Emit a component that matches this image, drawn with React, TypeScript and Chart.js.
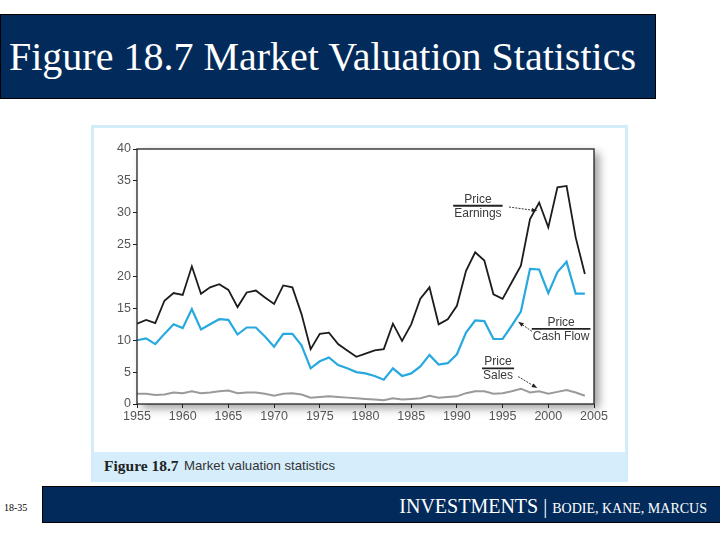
import { useEffect, useRef } from 'react'
import { Chart, registerables } from 'chart.js'

Chart.register(...registerables)

// years 1955..2004
const years = [
  1955, 1956, 1957, 1958, 1959, 1960, 1961, 1962, 1963, 1964,
  1965, 1966, 1967, 1968, 1969, 1970, 1971, 1972, 1973, 1974,
  1975, 1976, 1977, 1978, 1979, 1980, 1981, 1982, 1983, 1984,
  1985, 1986, 1987, 1988, 1989, 1990, 1991, 1992, 1993, 1994,
  1995, 1996, 1997, 1998, 1999, 2000, 2001, 2002, 2003, 2004,
]

const priceEarnings = [
  12.6, 13.2, 12.7, 16.2, 17.4, 17.1, 21.6, 17.3, 18.3, 18.8,
  17.9, 15.2, 17.5, 17.8, 16.7, 15.7, 18.6, 18.3, 14.1, 8.6,
  11.0, 11.2, 9.4, 8.4, 7.4, 7.9, 8.4, 8.6, 12.6, 9.9,
  12.5, 16.5, 18.3, 12.5, 13.3, 15.4, 20.9, 23.8, 22.5, 17.2,
  16.5, 19.1, 21.7, 29.0, 31.6, 27.7, 34.0, 34.2, 26.1, 20.4,
]

const priceCashFlow = [
  10.0, 10.3, 9.4, 11.0, 12.5, 11.9, 14.9, 11.7, 12.5, 13.3,
  13.2, 10.9, 12.0, 12.0, 10.6, 9.0, 11.0, 11.0, 9.2, 5.6,
  6.7, 7.3, 6.1, 5.6, 5.0, 4.8, 4.4, 3.8, 5.6, 4.4,
  4.8, 5.9, 7.7, 6.2, 6.4, 7.8, 11.2, 13.1, 13.0, 10.2,
  10.2, 12.3, 14.5, 21.2, 21.1, 17.4, 20.7, 22.3, 17.3, 17.3,
]

const priceSales = [
  1.6, 1.6, 1.4, 1.5, 1.8, 1.7, 2.0, 1.7, 1.8, 2.0,
  2.1, 1.7, 1.8, 1.8, 1.6, 1.3, 1.6, 1.7, 1.5, 1.0,
  1.1, 1.2, 1.1, 1.0, 0.9, 0.8, 0.7, 0.6, 0.9, 0.7,
  0.8, 0.9, 1.3, 1.0, 1.1, 1.2, 1.7, 2.0, 2.0, 1.6,
  1.7, 2.0, 2.4, 1.8, 2.0, 1.6, 1.9, 2.2, 1.8, 1.3,
]

const yTicks = [0, 5, 10, 15, 20, 25, 30, 35, 40]
const xTicks = [1955, 1960, 1965, 1970, 1975, 1980, 1985, 1990, 1995, 2000, 2005]

// fraction labels placed in data units, with an arrow pointing at the line
const fractionLabels = [
  { top: 'Price', bottom: 'Earnings', x: 1992.3, y: 31.1, from: [1995.7, 30.9], to: [1998.8, 30.3] },
  { top: 'Price', bottom: 'Cash Flow', x: 2001.4, y: 11.8, from: [1998.2, 11.4], to: [1996.7, 12.9] },
  { top: 'Price', bottom: 'Sales', x: 1994.5, y: 5.6, from: [1996.7, 4.3], to: [1998.8, 2.5] },
]

const NAVY = '#022b5b'

const framePlugin = {
  id: 'frame',
  beforeDraw(chart: any) {
    const { ctx, chartArea: a } = chart
    ctx.save()
    ctx.shadowColor = 'rgba(0,0,0,0.4)'
    ctx.shadowBlur = 9
    ctx.shadowOffsetX = 5
    ctx.shadowOffsetY = 4
    ctx.fillStyle = '#fff'
    ctx.fillRect(a.left, a.top, a.right - a.left, a.bottom - a.top)
    ctx.restore()
  },
  afterDatasetsDraw(chart: any) {
    const { ctx, chartArea: a, scales } = chart
    ctx.save()
    ctx.strokeStyle = '#222'
    ctx.lineWidth = 1.3
    ctx.strokeRect(a.left, a.top, a.right - a.left, a.bottom - a.top)

    ctx.font = '12px "Liberation Sans", Arial, sans-serif'
    ctx.textAlign = 'center'
    fractionLabels.forEach(l => {
      const cx = scales.x.getPixelForValue(l.x)
      const cy = scales.y.getPixelForValue(l.y)
      const w = Math.max(ctx.measureText(l.top).width, ctx.measureText(l.bottom).width) + 2
      ctx.fillStyle = '#3a3a3a'
      ctx.textBaseline = 'bottom'
      ctx.fillText(l.top, cx, cy - 0.5)
      ctx.textBaseline = 'top'
      ctx.fillText(l.bottom, cx, cy + 1.5)
      ctx.strokeStyle = '#222'
      ctx.lineWidth = 1.8
      ctx.beginPath()
      ctx.moveTo(cx - w / 2, cy)
      ctx.lineTo(cx + w / 2, cy)
      ctx.stroke()

      // dashed arrow
      const x1 = scales.x.getPixelForValue(l.from[0])
      const y1 = scales.y.getPixelForValue(l.from[1])
      const x2 = scales.x.getPixelForValue(l.to[0])
      const y2 = scales.y.getPixelForValue(l.to[1])
      const ang = Math.atan2(y2 - y1, x2 - x1)
      ctx.lineWidth = 0.9
      ctx.setLineDash([2, 1.2])
      ctx.beginPath()
      ctx.moveTo(x1, y1)
      ctx.lineTo(x2 - 4 * Math.cos(ang), y2 - 4 * Math.sin(ang))
      ctx.stroke()
      ctx.setLineDash([])
      ctx.fillStyle = '#222'
      ctx.beginPath()
      ctx.moveTo(x2, y2)
      ctx.lineTo(x2 - 6 * Math.cos(ang - 0.35), y2 - 6 * Math.sin(ang - 0.35))
      ctx.lineTo(x2 - 6 * Math.cos(ang + 0.35), y2 - 6 * Math.sin(ang + 0.35))
      ctx.closePath()
      ctx.fill()
    })
    ctx.restore()
  },
}

export default function App() {
  const chartRef = useRef<HTMLCanvasElement>(null)
  const chartInstance = useRef<Chart | null>(null)

  useEffect(() => {
    document.body.style.margin = '0'
    if (!chartRef.current) return
    const ctx = chartRef.current.getContext('2d')
    if (!ctx) return

    const toPoints = (vals: number[]) => vals.map((v, i) => ({ x: years[i], y: v }))

    chartInstance.current = new Chart(ctx, {
      type: 'line',
      data: {
        datasets: [
          { label: 'Price/Sales', data: toPoints(priceSales), borderColor: '#9a9a9a', borderWidth: 2, pointRadius: 0, tension: 0 },
          { label: 'Price/Cash Flow', data: toPoints(priceCashFlow), borderColor: '#27a9df', borderWidth: 2.2, pointRadius: 0, tension: 0 },
          { label: 'Price/Earnings', data: toPoints(priceEarnings), borderColor: '#1c1c1c', borderWidth: 1.8, pointRadius: 0, tension: 0 },
        ],
      },
      options: {
        animation: false,
        responsive: false,
        maintainAspectRatio: false,
        layout: { padding: { top: 24, right: 34, left: 0, bottom: 0 } },
        plugins: {
          legend: { display: false },
          tooltip: { enabled: false },
        },
        scales: {
          x: {
            type: 'linear',
            min: 1955,
            max: 2005,
            afterFit: (s: any) => { s.height = 48 },
            afterBuildTicks: (s: any) => { s.ticks = xTicks.map(v => ({ value: v })) },
            grid: { drawOnChartArea: false, tickLength: 4, color: '#222' },
            border: { display: false },
            ticks: {
              color: '#555',
              padding: 1,
              font: { family: '"Liberation Sans", Arial, sans-serif', size: 12.5 },
              callback: (v: any) => String(v),
            },
          },
          y: {
            min: 0,
            max: 40,
            afterFit: (s: any) => { s.width = 46 },
            afterBuildTicks: (s: any) => { s.ticks = yTicks.map(v => ({ value: v })) },
            grid: { drawOnChartArea: false, tickLength: 4, color: '#222' },
            border: { display: false },
            ticks: {
              color: '#555',
              padding: 2,
              font: { family: '"Liberation Sans", Arial, sans-serif', size: 12.5 },
            },
          },
        },
      },
      plugins: [framePlugin],
    })

    return () => {
      if (chartInstance.current) {
        chartInstance.current.destroy()
      }
    }
  }, [])

  return (
    <div style={{ position: 'relative', width: 720, height: 540, background: '#fff', overflow: 'hidden' }}>
      {/* title banner */}
      <div style={{
        position: 'absolute', left: 0, top: 14, width: 654, height: 83,
        background: NAVY, border: '1px solid #000',
      }}>
        <div style={{
          position: 'absolute', left: 8, top: 22, color: '#fff', whiteSpace: 'nowrap',
          fontFamily: '"Liberation Serif", "DejaVu Serif", serif', fontSize: 40, lineHeight: '40px',
        }}>
          Figure 18.7 Market Valuation Statistics
        </div>
      </div>

      {/* chart panel */}
      <div style={{
        position: 'absolute', left: 91, top: 125, width: 531, height: 351,
        border: '3px solid #d3ecf9', background: '#fff',
      }} />
      <div style={{
        position: 'absolute', left: 94, top: 452, width: 531, height: 27, background: '#d6eefb',
      }}>
        <span style={{
          position: 'absolute', left: 10, top: 5, whiteSpace: 'nowrap',
          fontFamily: '"Liberation Serif", serif', fontWeight: 'bold', fontSize: 15.5, color: '#222',
        }}>Figure 18.7</span>
        <span style={{
          position: 'absolute', left: 90, top: 6, whiteSpace: 'nowrap',
          fontFamily: '"Liberation Sans", Arial, sans-serif', fontSize: 13.2, color: '#333',
        }}>Market valuation statistics</span>
      </div>
      <div style={{ position: 'absolute', left: 91, top: 125, width: 537, height: 327 }}>
        <canvas ref={chartRef} width={537} height={327} style={{ width: 537, height: 327 }} />
      </div>

      {/* footer */}
      <div style={{
        position: 'absolute', left: 4, top: 502, fontSize: 10, color: '#000',
        fontFamily: '"Liberation Serif", serif',
      }}>18-35</div>
      <div style={{
        position: 'absolute', left: 42, top: 486, width: 678, height: 35,
        background: NAVY, borderTop: '1px solid #000', borderBottom: '1px solid #000', borderLeft: '1px solid #000',
      }}>
        <div style={{
          position: 'absolute', right: 14, top: 8, color: '#fff', whiteSpace: 'nowrap',
          fontFamily: '"Liberation Serif", serif', fontSize: 20, lineHeight: '22px',
        }}>
          INVESTMENTS <span style={{ fontSize: 20 }}>|</span> <span style={{ fontSize: 14 }}>BODIE, KANE, MARCUS</span>
        </div>
      </div>
    </div>
  )
}
